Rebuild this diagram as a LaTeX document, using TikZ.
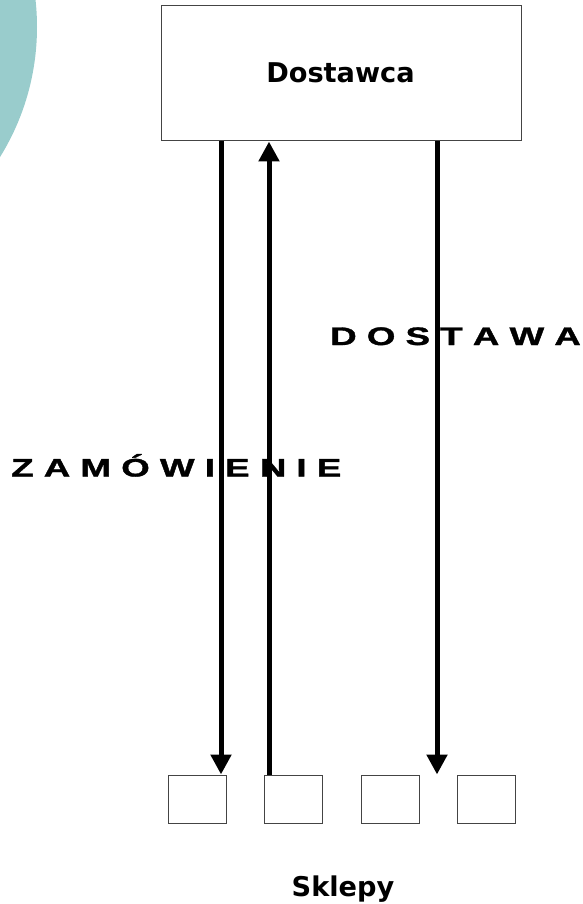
\documentclass[tikz,border=0pt]{standalone}
\usepackage{fontspec}
\usepackage{graphicx}
\usetikzlibrary{arrows.meta}
\newfontfamily\lsfont{Liberation Sans Bold}[FakeBold=1.2]
\newfontfamily\dvfont{DejaVu Sans}
\definecolor{teal1}{HTML}{99CCCC}
\definecolor{boxgray}{HTML}{444444}
\begin{document}
\begin{tikzpicture}[x=1pt,y=-1pt,
  bigbox/.style={draw=boxgray,line width=1pt,minimum width=360pt,minimum height=135pt,inner sep=0pt},
  shopbox/.style={draw=boxgray,line width=1pt,minimum width=58pt,minimum height=48pt,inner sep=0pt},
  titletext/.style={font=\dvfont\bfseries\fontsize{27.2pt}{30pt}\selectfont,inner sep=0pt,anchor=base},
  spacedtext/.style={inner sep=0pt,anchor=base west},
  flow/.style={line width=5pt,-{Triangle[width=20pt,length=20pt]}}]
\useasboundingbox (0,0) rectangle (583,904);
% decorative circle
\fill[teal1] (-210,27) circle (247pt);
% supplier box
\node[bigbox] (dost) at (341.5,73.5) {};
\node[titletext] (dostlbl) at (340.5,83) {Dostawca};
% shops
\node[shopbox] (s1) at (197.5,799) {};
\node[shopbox] (s2) at (293,799) {};
\node[shopbox] (s3) at (390,799) {};
\node[shopbox] (s4) at (486,799) {};
\node[titletext] (sklepy) at (343,896) {Sklepy};
% labels
\node[spacedtext] (zam) at (11,476.5) {\scalebox{1.45}[1]{\lsfont\fontsize{25.3pt}{28pt}\selectfont Z A M Ó W I E N I E}};
\node[spacedtext] (dos) at (330,345) {\scalebox{1.45}[1]{\lsfont\fontsize{25.3pt}{28pt}\selectfont D O S T A W A}};
% arrows
\coordinate (x1) at (221,0);
\coordinate (x2) at (269,0);
\coordinate (x3) at (437,0);
\draw[flow] (dost.south -| x1) -- (s1.north -| x1);
\draw[flow] (s2.north -| x2) -- (dost.south -| x2);
\draw[flow] (dost.south -| x3) -- (s3.north -| x3);
\end{tikzpicture}
\end{document}
